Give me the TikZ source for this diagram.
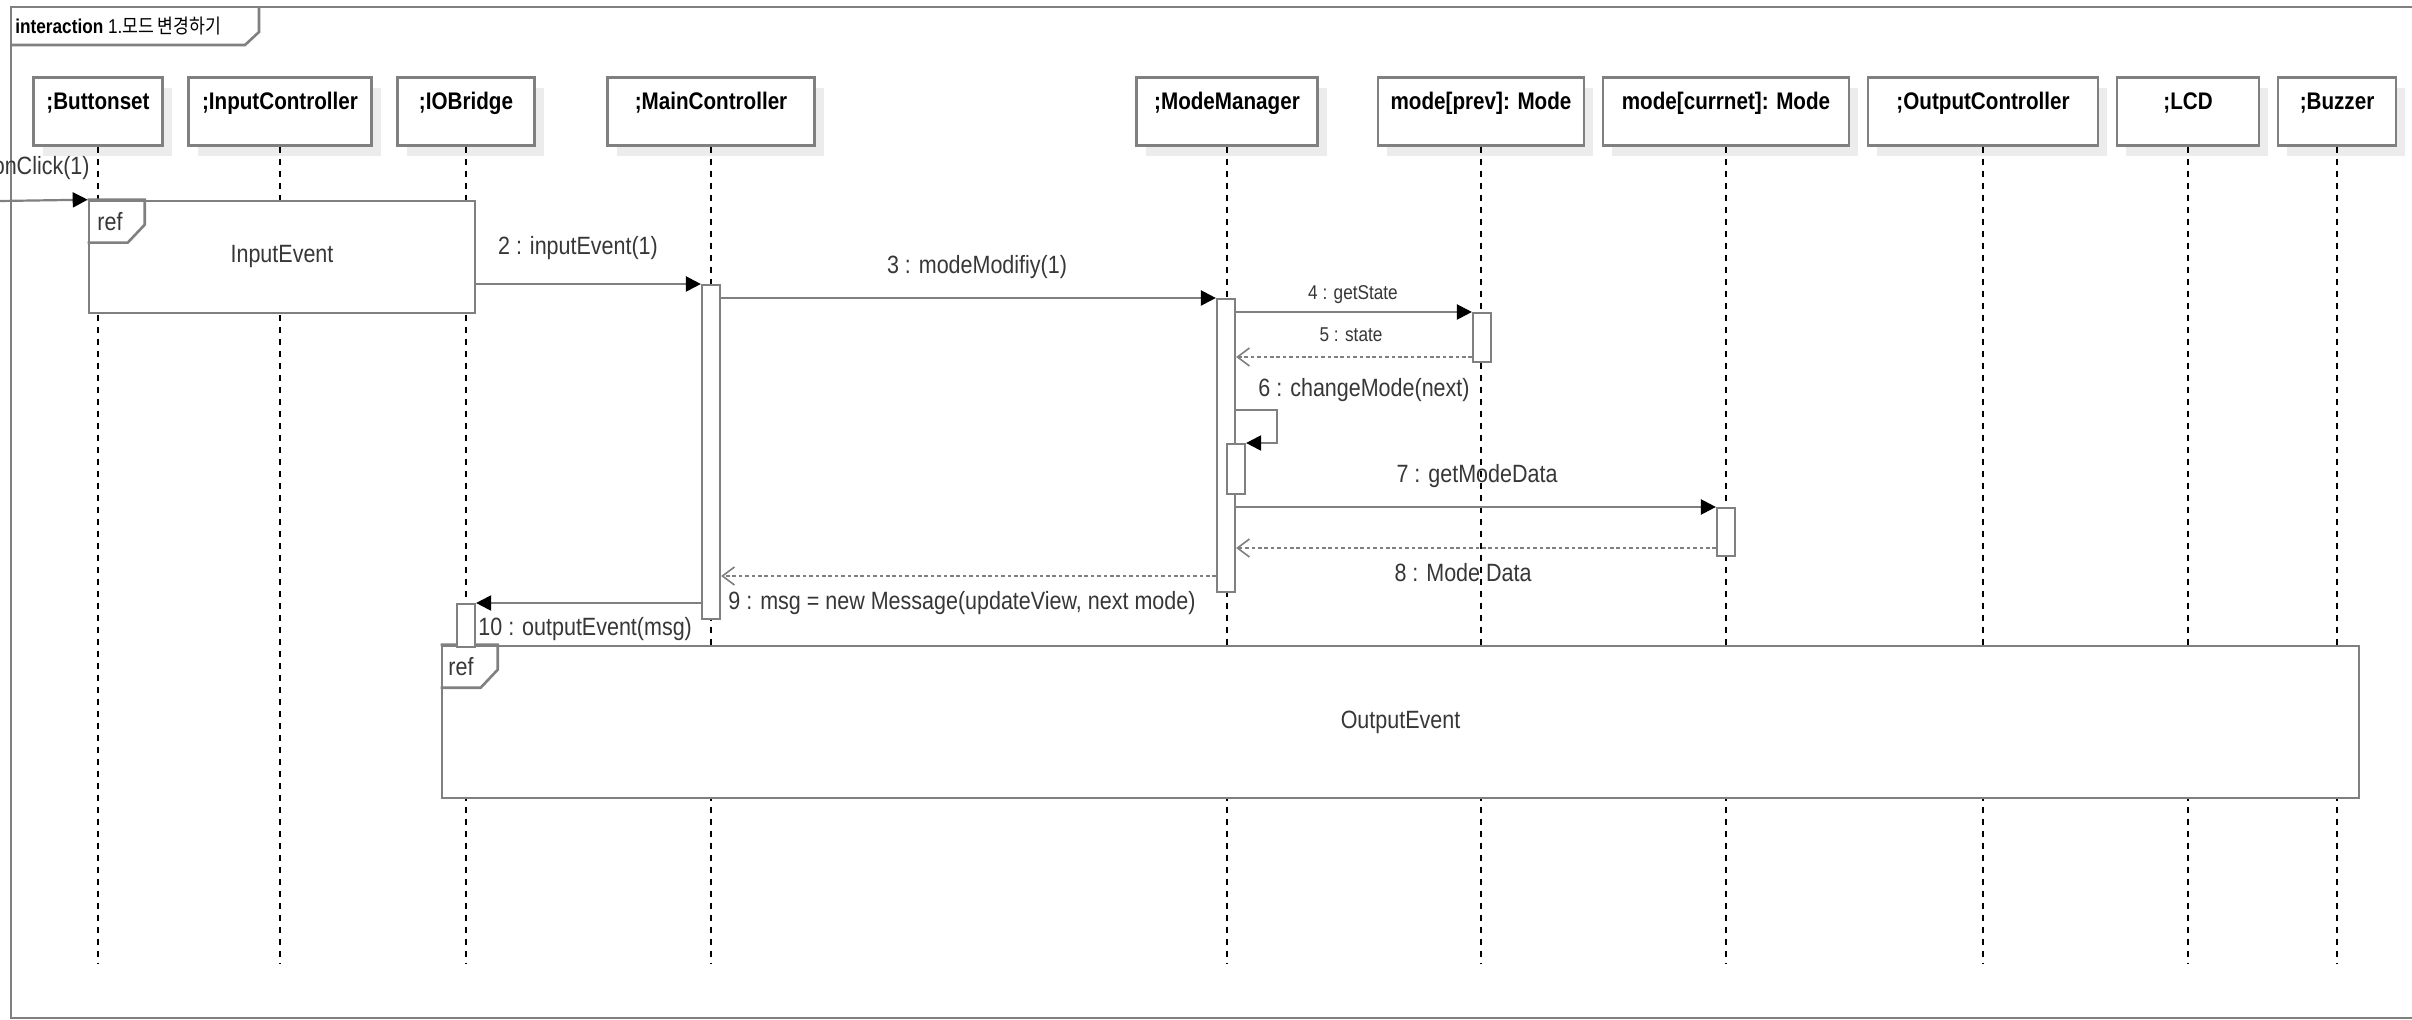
\documentclass[tikz,border=0pt]{standalone}
\usepackage{fontspec}
\setmainfont{Liberation Sans}[FakeStretch=0.86]
\newfontfamily\krfont{Noto Sans CJK KR}[FakeStretch=0.86]
\usetikzlibrary{arrows.meta,shadows}
\definecolor{linegray}{RGB}{128,128,128}
\definecolor{txtgray}{RGB}{55,55,55}
\definecolor{shadowgray}{RGB}{236,236,236}

\begin{document}
\begin{tikzpicture}[x=0.5pt,y=-0.5pt,
  lifebox/.style={draw=linegray,line width=1.3pt,fill=white,anchor=north,
    font=\fontsize{12}{14}\selectfont\bfseries,inner ysep=7pt,text height=9pt,text depth=11pt,
    drop shadow={shadow xshift=4.5pt,shadow yshift=-5.5pt,fill=shadowgray,opacity=1}},
  lifeline/.style={black,line width=0.7pt,dash pattern=on 3pt off 3pt},
  actbox/.style={draw=linegray,line width=1.1pt,fill=white,anchor=north,minimum width=9pt,inner sep=0pt},
  refbox/.style={draw=linegray,line width=1.3pt,fill=white,text=txtgray,font=\fontsize{12.5}{14}\selectfont},
  tabline/.style={linegray,line width=1.3pt},
  msg/.style={linegray,line width=1.1pt,-{Triangle[length=7.5pt,width=7.5pt,black]}},
  ret/.style={linegray,line width=1.1pt,dash pattern=on 1.8pt off 1.4pt,-{Straight Barb[length=6pt,width=9pt,line width=0.8pt]}},
  lbl/.style={text=txtgray,font=\fontsize{12.5}{14}\selectfont,inner sep=0pt},
  smalllbl/.style={text=txtgray,font=\fontsize{10}{12}\selectfont,inner sep=0pt}]
\useasboundingbox[fill=white] (0,0) rectangle (2412,1020);
\clip (0,0) rectangle (2412,1020);

% frame
\draw[tabline] (11,7) rectangle (2420,1018);
\draw[tabline] (11,45) -- (245,45) -- (259,32) -- (259,7);
\node[anchor=west,inner sep=0pt,font=\fontsize{10}{12}\selectfont] (title) at (15,26)
  {\textbf{interaction} 1.{\krfont 모드 변경하기}};

% lifelines
\node[lifebox,minimum width=64.5pt] (bset) at (98,76) {;Buttonset};
\node[lifebox,minimum width=91.5pt] (inctl) at (280,76) {;InputController};
\node[lifebox,minimum width=68.5pt] (iob) at (466,76) {;IOBridge};
\node[lifebox,minimum width=103.5pt] (mainctl) at (711,76) {;MainController};
\node[lifebox,minimum width=90.5pt] (modemgr) at (1227,76) {;ModeManager};
\node[lifebox,minimum width=103pt] (prev) at (1481,76) {mode[prev]: Mode};
\node[lifebox,minimum width=123pt] (cur) at (1726,76) {mode[currnet]: Mode};
\node[lifebox,minimum width=115pt] (outctl) at (1983,76) {;OutputController};
\node[lifebox,minimum width=71pt] (lcd) at (2188,76) {;LCD};
\node[lifebox,minimum width=59pt] (buzzer) at (2337,76) {;Buzzer};
\coordinate (llend) at (0,963);
\foreach \n in {bset,inctl,iob,mainctl,modemgr,prev,cur,outctl,lcd,buzzer}
  \draw[lifeline] (\n.south) -- (\n.south |- llend);

% ref fragments
\node[refbox,minimum width=193pt,minimum height=56pt] (inref) at (282,257) {InputEvent};
\draw[tabline] (inref.north west) -- ++(57,0) -- ++(0,25) -- ++(-17,18) -- ++(-40,0);
\node[lbl,anchor=west] (inreftag) at (97,222) {ref};
\node[refbox,minimum width=958.5pt,minimum height=76pt] (outref) at (1400.5,722) {OutputEvent};
\draw[tabline] (outref.north west) -- ++(57,0) -- ++(0,25) -- ++(-17,18) -- ++(-40,0);
\node[lbl,anchor=west] (outreftag) at (448,667) {ref};

% activations
\node[actbox,minimum height=167pt] (mcact) at (711,284) {};
\node[actbox,minimum height=146.5pt] (mmact) at (1226,298) {};
\node[actbox,minimum height=24.5pt] (prevact) at (1482,312) {};
\node[actbox,minimum height=25pt] (nestact) at (1236,443) {};
\node[actbox,minimum height=24pt] (curact) at (1726,507) {};
\node[actbox,minimum height=21.5pt] (ioact) at (466,603) {};

% messages
\coordinate (found) at (0,201);
\draw[msg] (found) -- (inref.north west);
\draw[msg] (inref.east |- mcact.north) -- (mcact.north west);
\draw[msg] (mcact.east |- mmact.north) -- (mmact.north west);
\draw[msg] (mmact.east |- prevact.north) -- (prevact.north west);
\draw[ret] (prevact.west |- 0,357) -- (mmact.east |- 0,357);
\draw[msg] (mmact.east |- 0,410) -- ++(41,0) |- (nestact.north east);
\draw[msg] (mmact.east |- curact.north) -- (curact.north west);
\draw[ret] (curact.west |- 0,548) -- (mmact.east |- 0,548);
\draw[ret] (mmact.west |- 0,576) -- (mcact.east |- 0,576);
\draw[msg] (mcact.west |- ioact.north) -- (ioact.north east);

\node[lbl,anchor=east] (lclick) at (90,168) {onClick(1)};
\node[lbl] (l2) at (578,248) {2 : inputEvent(1)};
\node[lbl] (l3) at (977,267) {3 : modeModifiy(1)};
\node[smalllbl] (l4) at (1353,295) {4 : getState};
\node[smalllbl] (l5) at (1351,335) {5 : state};
\node[lbl] (l6) at (1364,390) {6 : changeMode(next)};
\node[lbl] (l7) at (1477,476) {7 : getModeData};
\node[lbl] (l8) at (1463,573) {8 : Mode Data};
\node[lbl,anchor=west] (l9) at (728,603) {9 : msg = new Message(updateView, next mode)};
\node[lbl,anchor=west] (l10) at (478,629) {10 : outputEvent(msg)};
\end{tikzpicture}
\end{document}
